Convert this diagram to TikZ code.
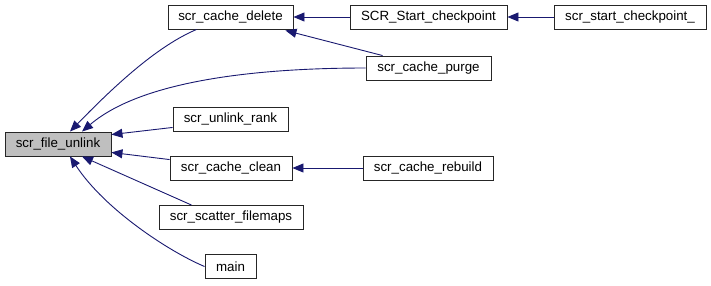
\documentclass[tikz,border=0pt]{standalone}
\usepackage{fontspec}
\setmainfont{Liberation Sans}
\usetikzlibrary{arrows.meta,calc}
\definecolor{edgeblue}{HTML}{191970}
\definecolor{boxgray}{HTML}{BFBFBF}
\tikzset{
  fn/.style={draw=black!85, line width=0.9pt, fill=white, inner sep=0pt,
    minimum height=24pt, font=\fontsize{13.33}{16}\selectfont},
  cur/.style={fn, fill=boxgray},
  call/.style={draw=edgeblue, line width=0.9pt,
    -{Triangle[length=11pt,width=9pt]}}
}
\begin{document}
\begin{tikzpicture}[x=1pt,y=-1pt]
\useasboundingbox (0,0) rectangle (711,285);
% functions
\node[cur, minimum width=106pt] (unlink)  at (58,144)    {scr\_file\_unlink};
\node[fn,  minimum width=125pt] (delete)  at (230.5,17)  {scr\_cache\_delete};
\node[fn,  minimum width=157pt] (start)   at (428.5,17)  {SCR\_Start\_checkpoint};
\node[fn,  minimum width=152pt] (startu)  at (630,17)    {scr\_start\_checkpoint\_};
\node[fn,  minimum width=125pt] (purge)   at (428.5,68)  {scr\_cache\_purge};
\node[fn,  minimum width=115pt] (rank)    at (230.5,119) {scr\_unlink\_rank};
\node[fn,  minimum width=122pt] (clean)   at (231,168)   {scr\_cache\_clean};
\node[fn,  minimum width=144pt] (scatter) at (231,217.5) {scr\_scatter\_filemaps};
\node[fn,  minimum width=51pt]  (main)    at (230.5,266.5) {main};
\node[fn,  minimum width=130pt] (rebuild) at (428,168)   {scr\_cache\_rebuild};
% calls into scr_file_unlink
\draw[call] ($(delete.south west)+(29,0)$) .. controls (160,45) and (120,80) .. ($(unlink.north)+(12,0)$);
\draw[call] (purge.west) .. controls (250,68) and (140,82) .. ($(unlink.north)+(24,0)$);
\draw[call] ($(rank.south west)+(0,-4)$) -- ($(unlink.north east)+(0,3)$);
\draw[call] ($(clean.north west)+(0,4)$) -- ($(unlink.south east)+(0,-4)$);
\draw[call] ($(scatter.north west)+(33,0)$) -- ($(unlink.south)+(24,0)$);
\draw[call] (main.west) .. controls (170,252) and (105,210) .. ($(unlink.south)+(12,0)$);
% other calls
\draw[call] (start.west) -- (delete.east);
\draw[call] (startu.west) -- (start.east);
\draw[call] ($(purge.north west)+(17,0)$) -- ($(delete.south east)+(-8,1)$);
\draw[call] (rebuild.west) -- (clean.east);
\end{tikzpicture}
\end{document}
